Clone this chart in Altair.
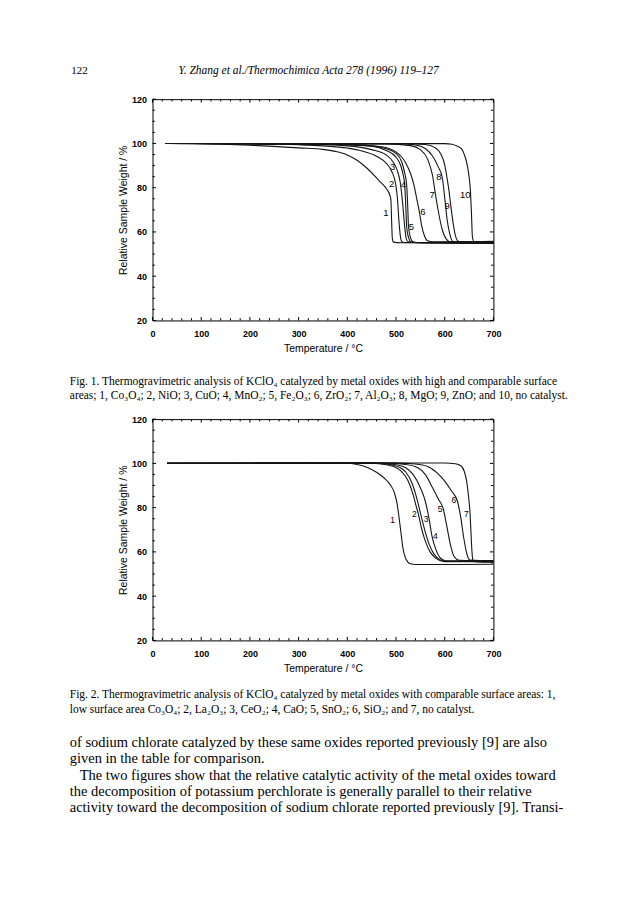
import altair as alt
import pandas as pd

# ---------------- axis ticks ----------------
X_TICKS = [0, 100, 200, 300, 400, 500, 600, 700]
Y_TICKS = [20, 40, 60, 80, 100, 120]
X_MINOR = [20, 40, 60, 80, 120, 140, 160, 180, 220, 240, 260, 280, 320, 340, 360, 380,
           420, 440, 460, 480, 520, 540, 560, 580, 620, 640, 660, 680]
Y_MINOR = [25, 30, 35, 45, 50, 55, 65, 70, 75, 85, 90, 95, 105, 110, 115]

# ---------------- Fig. 1 curves (temperature / weight %) ----------------
f1_c1_T = [27, 100, 200, 300, 350, 375, 400, 420, 440, 465, 480, 487, 489.5, 491, 492.5, 495, 510, 600, 700]
f1_c1_W = [100, 99.9, 99.2, 98.0, 97.3, 96.4, 94.8, 92.4, 88.9, 83.2, 79.6, 76.8, 74.5, 65, 57, 55.4, 55.1, 55.0, 54.8]
f1_c2_T = [27, 200, 300, 350, 400, 430, 460, 480, 492, 499, 503, 506, 509, 512, 516, 600, 700]
f1_c2_W = [100, 99.8, 99.4, 98.9, 97.9, 96.6, 94.2, 91, 87, 82, 75, 65, 58, 55.6, 55.2, 55.3, 55.0]
f1_c3_T = [27, 300, 400, 450, 480, 495, 503, 509, 514, 518, 521, 525, 540, 700]
f1_c3_W = [100, 99.6, 98.9, 97.2, 94.8, 91.3, 87.5, 82, 72, 62, 57, 55.5, 55.2, 55.3]
f1_c4_T = [27, 350, 450, 480, 500, 510, 515, 518, 520, 522, 526, 530, 545, 700]
f1_c4_W = [100, 99.7, 98.7, 96.8, 93.8, 89.8, 85.5, 81, 72, 62, 57.3, 55.6, 55.2, 55.2]
f1_c5_T = [27, 350, 450, 480, 500, 512, 518, 522, 524, 525.5, 529, 535, 550, 700]
f1_c5_W = [100, 99.7, 98.9, 97.6, 95.5, 91.5, 86.5, 81, 72, 63, 58, 55.6, 55.0, 54.8]
f1_c6_T = [27, 400, 470, 500, 520, 530, 537, 543, 548, 553, 558, 565, 575, 700]
f1_c6_W = [100, 99.6, 98.5, 96.2, 91.2, 86.3, 81, 74.5, 69, 62.5, 58.5, 56, 55.5, 55.5]
f1_c7_T = [27, 480, 530, 550, 565, 575, 581, 588, 595, 602, 610, 620, 700]
f1_c7_W = [100, 99.8, 99.0, 97.2, 92.8, 85.5, 77, 68, 61, 57.2, 55.6, 55.4, 55.3]
f1_c8_T = [27, 500, 540, 560, 575, 587, 595, 601, 605, 610, 617, 630, 700]
f1_c8_W = [100, 99.9, 99.3, 97.7, 94.3, 89.3, 84.5, 73.5, 65.5, 59.5, 55.7, 55.4, 55.4]
f1_c9_T = [27, 520, 560, 580, 592, 600, 604, 609, 613, 618, 622, 628, 640, 700]
f1_c9_W = [100, 99.9, 99.5, 98.1, 95.2, 90.3, 85.5, 78.2, 71, 63, 58.3, 55.8, 55.5, 55.5]
f1_c10_T = [27, 600, 615, 625, 635, 641, 646, 650, 653, 655, 657, 660, 700]
f1_c10_W = [100, 99.9, 99.6, 98.8, 97.4, 94.5, 90.5, 85, 78, 68, 57.5, 55.7, 55.8]

f1_lab_text = ["1", "2", "3", "4", "5", "6", "7", "8", "9", "10"]
f1_lab_T = [479, 491, 493, 515, 531.5, 555, 574, 588, 605, 642]
f1_lab_W = [68.7, 81.5, 89.3, 81.4, 62.4, 69, 76.6, 84.8, 71.6, 76.6]

# ---------------- Fig. 2 curves ----------------
f2_c1_T = [30, 200, 300, 400, 420, 440, 460, 475, 488, 497, 502, 506, 510, 514, 519, 524, 530, 540, 600, 700]
f2_c1_W = [100, 100.2, 100.3, 100.1, 99.5, 98.3, 96, 93.5, 90.4, 86.5, 82, 76, 69, 62, 57.5, 55.5, 54.6, 54.3, 54.3, 54.4]
f2_c2_T = [30, 450, 480, 500, 510, 525, 535, 541, 546, 552, 560, 570, 580, 590, 600, 700]
f2_c2_W = [100, 100.1, 99.4, 98.1, 96.6, 92, 86, 81, 77, 71, 65, 60, 57.4, 56.1, 55.6, 55.6]
f2_c3_T = [30, 460, 490, 510, 520, 533, 543, 548, 553, 560, 568, 578, 590, 600, 700]
f2_c3_W = [100, 100.1, 99.4, 97.9, 96.1, 91, 84, 79.5, 75, 69, 63.5, 59, 56.5, 55.8, 55.8]
f2_c4_T = [30, 470, 500, 520, 535, 550, 560, 567, 574, 582, 592, 602, 700]
f2_c4_W = [100, 100.1, 99.4, 98, 95, 89, 83, 76, 67, 61, 57, 56, 56]
f2_c5_T = [30, 480, 520, 545, 560, 575, 588, 597, 604, 611, 619, 630, 700]
f2_c5_W = [100, 100.1, 99.5, 98, 95, 89, 83.5, 79.5, 72, 64, 58, 56.2, 56]
f2_c6_T = [30, 500, 540, 565, 585, 600, 614, 626, 633, 639, 645, 652, 700]
f2_c6_W = [100, 100.1, 99.7, 98.6, 95.6, 92, 87.5, 83, 75.5, 66.5, 59.5, 56.3, 56]
f2_c7_T = [30, 600, 622, 633, 640, 645, 649, 652, 654, 656, 658, 662, 700]
f2_c7_W = [100, 100.2, 99.8, 98.9, 96.5, 92, 85, 77.5, 68.5, 60, 56.3, 55.6, 55.3]

f2_lab_text = ["1", "2", "3", "4", "5", "6", "7"]
f2_lab_T = [493, 537.5, 562, 581, 590.5, 618.7, 644.4]
f2_lab_W = [74.4, 77.3, 75, 67.2, 79.6, 83.3, 77.3]

# ---------------- page text ----------------
page_number = "122"
running_head = "Y. Zhang et al./Thermochimica Acta 278 (1996) 119\u2013127"
caption1 = [
    "Fig. 1.  Thermogravimetric analysis of KClO\u2084 catalyzed by metal oxides with high and comparable surface",
    "areas; 1, Co\u2083O\u2084; 2, NiO; 3, CuO; 4, MnO\u2082; 5, Fe\u2082O\u2083; 6, ZrO\u2082; 7, Al\u2082O\u2083; 8, MgO; 9, ZnO; and 10, no catalyst.",
]
caption2 = [
    "Fig. 2.  Thermogravimetric analysis of KClO\u2084 catalyzed by metal oxides with comparable surface areas: 1,",
    "low surface area Co\u2083O\u2084; 2, La\u2082O\u2083; 3, CeO\u2082; 4, CaO; 5, SnO\u2082; 6, SiO\u2082; and 7, no catalyst.",
]
body = [
    "of sodium chlorate catalyzed by these same oxides reported previously [9] are also",
    "given in the table for comparison.",
    "The two figures show that the relative catalytic activity of the metal oxides toward",
    "the decomposition of potassium perchlorate is generally parallel to their relative",
    "activity toward the decomposition of sodium chlorate reported previously [9]. Transi-",
]

# ---------------- build ----------------
W, H = 342, 222
SANS = "Liberation Sans"
SERIF = "Liberation Serif"
XS = alt.Scale(domain=[0, 700], nice=False, zero=False)
YS = alt.Scale(domain=[20, 120], nice=False, zero=False)

AX_X = alt.Axis(
    values=X_TICKS, ticks=False, domain=False, grid=False, labelFlush=False,
    labelFont=SANS, labelFontSize=9, labelFontWeight="bold", labelColor="black",
    labelPadding=9, title="Temperature / \u00b0C", titleFont=SANS, titleFontSize=10.5,
    titleFontWeight="normal", titleColor="black", titlePadding=5)
AX_Y = alt.Axis(
    values=Y_TICKS, ticks=False, domain=False, grid=False, labelFlush=False,
    labelFont=SANS, labelFontSize=9, labelFontWeight="bold", labelColor="black",
    labelPadding=6, title="Relative Sample Weight / %", titleFont=SANS, titleFontSize=10.5,
    titleFontWeight="normal", titleColor="black", titlePadding=3)


def curves_frame(pairs):
    rows = []
    for k, (ts, ws) in enumerate(pairs, start=1):
        for i, (t, w) in enumerate(zip(ts, ws)):
            rows.append({"curve": str(k), "i": i, "T": t, "W": w})
    return pd.DataFrame(rows)


def text_layer(s, x, y, size, font=SERIF, style="normal", align="left"):
    return alt.Chart(alt.Data(values=[{"k": 0}])).mark_text(
        text=s, align=align, baseline="middle", font=font, fontSize=size,
        fontStyle=style, color="black"
    ).encode(x=alt.value(x), y=alt.value(y))


def tick_layers():
    layers = []
    for vals, ln in [(X_TICKS, 3.5), (X_MINOR, 2.3)]:
        d = pd.DataFrame({"T": vals})
        for y0, y1 in [(H, H - ln), (0, ln)]:
            layers.append(alt.Chart(d).mark_rule(color="black", strokeWidth=1).encode(
                x=alt.X("T:Q", scale=XS, axis=AX_X), y=alt.value(y0), y2=alt.value(y1)))
    for vals, ln in [(Y_TICKS, 3.5), (Y_MINOR, 2.3)]:
        d = pd.DataFrame({"W": vals})
        for x0, x1 in [(0, ln), (W - ln, W)]:
            layers.append(alt.Chart(d).mark_rule(color="black", strokeWidth=1).encode(
                y=alt.Y("W:Q", scale=YS, axis=AX_Y), x=alt.value(x0), x2=alt.value(x1)))
    return layers


def panel(df, lab_text, lab_T, lab_W, lab_size, extra):
    lines = alt.Chart(df).mark_line(color="#151515", strokeWidth=1.1, interpolate="monotone").encode(
        x=alt.X("T:Q", scale=XS, axis=AX_X),
        y=alt.Y("W:Q", scale=YS, axis=AX_Y),
        detail="curve:N",
        order="i:Q",
    )
    lab_df = pd.DataFrame({"label": lab_text, "T": lab_T, "W": lab_W})
    labels = alt.Chart(lab_df).mark_text(font=SANS, fontSize=lab_size, color="black").encode(
        x=alt.X("T:Q", scale=XS, axis=AX_X), y=alt.Y("W:Q", scale=YS, axis=AX_Y), text="label:N")
    return alt.layer(lines, labels, *tick_layers(), *extra).properties(width=W, height=H)


df1 = curves_frame([(f1_c1_T, f1_c1_W), (f1_c2_T, f1_c2_W), (f1_c3_T, f1_c3_W), (f1_c4_T, f1_c4_W),
                    (f1_c5_T, f1_c5_W), (f1_c6_T, f1_c6_W), (f1_c7_T, f1_c7_W), (f1_c8_T, f1_c8_W),
                    (f1_c9_T, f1_c9_W), (f1_c10_T, f1_c10_W)])
df2 = curves_frame([(f2_c1_T, f2_c1_W), (f2_c2_T, f2_c2_W), (f2_c3_T, f2_c3_W), (f2_c4_T, f2_c4_W),
                    (f2_c5_T, f2_c5_W), (f2_c6_T, f2_c6_W), (f2_c7_T, f2_c7_W)])

anchor = alt.Chart(alt.Data(values=[{"k": 0}])).mark_rect(opacity=0).encode(
    x=alt.value(-144), x2=alt.value(464), y=alt.value(-89), y2=alt.value(807))

LEFT = -83
CAP = 11.5
BODY = 14.5
extra1 = [
    anchor,
    text_layer(page_number, -81.5, -28.7, 11),
    text_layer(running_head, 26, -28.7, 11.5, style="italic"),
    text_layer(caption1[0], LEFT, 284, CAP),
    text_layer(caption1[1], LEFT, 297.5, CAP),
]
extra2 = [
    text_layer(caption2[0], LEFT, 277, CAP),
    text_layer(caption2[1], LEFT, 291.5, CAP),
    text_layer(body[0], LEFT, 325.3, BODY),
    text_layer(body[1], LEFT, 341.5, BODY),
    text_layer(body[2], LEFT + 10, 358, BODY),
    text_layer(body[3], LEFT, 374, BODY),
    text_layer(body[4], LEFT, 390, BODY),
]

p1 = panel(df1, f1_lab_text, f1_lab_T, f1_lab_W, 9.5, extra1)
p2 = panel(df2, f2_lab_text, f2_lab_T, f2_lab_W, 8.5, extra2)

chart = alt.vconcat(p1, p2, spacing=99, bounds="flush").properties(
    padding=0, background="white"
).configure_view(stroke="black", strokeWidth=1)

chart.save("out.html", embed_options={"renderer": "svg", "actions": False})
